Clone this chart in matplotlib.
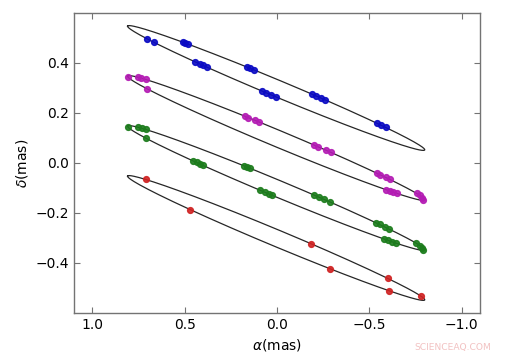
"""
Astrometric tracks of four images: parallax ellipses with measured positions.
"""

import numpy as np
import matplotlib
matplotlib.use('Agg')
import matplotlib.pyplot as plt

plt.rcParams.update({
    'font.family':       'DejaVu Sans',
    'font.size':         10,
    'xtick.direction':   'in',
    'ytick.direction':   'in',
    'xtick.top':         True,
    'ytick.right':       True,
    'xtick.major.size':  4,
    'ytick.major.size':  4,
    'mathtext.default':  'it',
})

# ── Ellipse model (common shape, four centres) ────────────────────────────────
ELL_CX = 0.005
ELL_AX = 0.805
ELL_AY = 0.247
ELL_BY = 0.036
ell_centres = [0.30, 0.10, -0.10, -0.30]

# ── Measured positions (alpha, delta) in mas ──────────────────────────────────
blue_x = [0.705, 0.669, 0.512, 0.498, 0.482, 0.443, 0.420, 0.400, 0.378,
          0.163, 0.145, 0.125, 0.082, 0.058, 0.032, 0.005,
          -0.188, -0.212, -0.238, -0.262, -0.540, -0.565, -0.588]
blue_y = [0.497, 0.482, 0.483, 0.479, 0.475, 0.405, 0.397, 0.390, 0.383,
          0.384, 0.379, 0.372, 0.288, 0.280, 0.272, 0.264,
          0.276, 0.268, 0.260, 0.252, 0.159, 0.151, 0.142]

mag_x = [0.805, 0.752, 0.735, 0.712, 0.706, 0.175, 0.155, 0.118, 0.100,
         -0.198, -0.222, -0.265, -0.290, -0.540, -0.560, -0.590, -0.610,
         -0.590, -0.610, -0.630, -0.650, -0.758, -0.772, -0.785, -0.792]
mag_y = [0.344, 0.343, 0.339, 0.334, 0.297, 0.187, 0.181, 0.170, 0.165,
         0.073, 0.065, 0.051, 0.043, -0.041, -0.048, -0.058, -0.066,
         -0.107, -0.112, -0.117, -0.122, -0.120, -0.130, -0.141, -0.150]

grn_x = [0.806, 0.752, 0.732, 0.712, 0.708, 0.455, 0.435, 0.415, 0.400,
         0.180, 0.162, 0.146, 0.090, 0.068, 0.046, 0.028,
         -0.200, -0.225, -0.255, -0.285, -0.535, -0.555, -0.585, -0.605,
         -0.580, -0.600, -0.620, -0.645, -0.755, -0.772, -0.786, -0.790]
grn_y = [0.144, 0.143, 0.138, 0.134, 0.098, 0.008, 0.002, -0.005, -0.010,
         -0.011, -0.017, -0.021, -0.110, -0.117, -0.123, -0.129,
         -0.128, -0.136, -0.146, -0.155, -0.239, -0.246, -0.257, -0.264,
         -0.304, -0.309, -0.315, -0.321, -0.321, -0.331, -0.341, -0.350]

red_x = [0.712, 0.470, -0.186, -0.289, -0.600, -0.605, -0.778]
red_y = [-0.066, -0.187, -0.323, -0.423, -0.462, -0.511, -0.532]

series = [
    (blue_x, blue_y, '#0a0ac4'),
    (mag_x,  mag_y,  '#b41cb4'),
    (grn_x,  grn_y,  '#1c7c1c'),
    (red_x,  red_y,  '#d02222'),
]

# ── Plot ──────────────────────────────────────────────────────────────────────
fig = plt.figure(figsize=(5.07, 3.61), dpi=100, facecolor='white')
ax = fig.add_axes([0.146, 0.133, 0.801, 0.831])

t = np.linspace(0, 2 * np.pi, 400)
for cy in ell_centres:
    ex = ELL_CX + ELL_AX * np.cos(t)
    ey = cy + ELL_AY * np.cos(t) + ELL_BY * np.sin(t)
    ax.plot(ex, ey, color='0.15', lw=0.9, zorder=1)

for xs, ys, col in series:
    ax.plot(xs, ys, 'o', color=col, mec=col, ms=4.2, alpha=0.9, zorder=2)

ax.set_xlim(1.1, -1.1)
ax.set_ylim(-0.6, 0.6)
ax.set_xticks([1.0, 0.5, 0.0, -0.5, -1.0])
ax.set_yticks([-0.4, -0.2, 0.0, 0.2, 0.4])
ax.set_xlabel(r'$\alpha$(mas)', fontsize=10)
ax.set_ylabel(r'$\delta$(mas)', fontsize=10)
for s in ax.spines.values():
    s.set_color('0.45')
    s.set_linewidth(1.0)
ax.tick_params(colors='0.45', labelcolor='black')

fig.text(0.968, 0.025, 'SCIENCEAQ.COM', ha='right', va='bottom',
         fontsize=6.6, color='#f2c2c2')

fig.savefig('out.png', dpi=100, facecolor='white')
